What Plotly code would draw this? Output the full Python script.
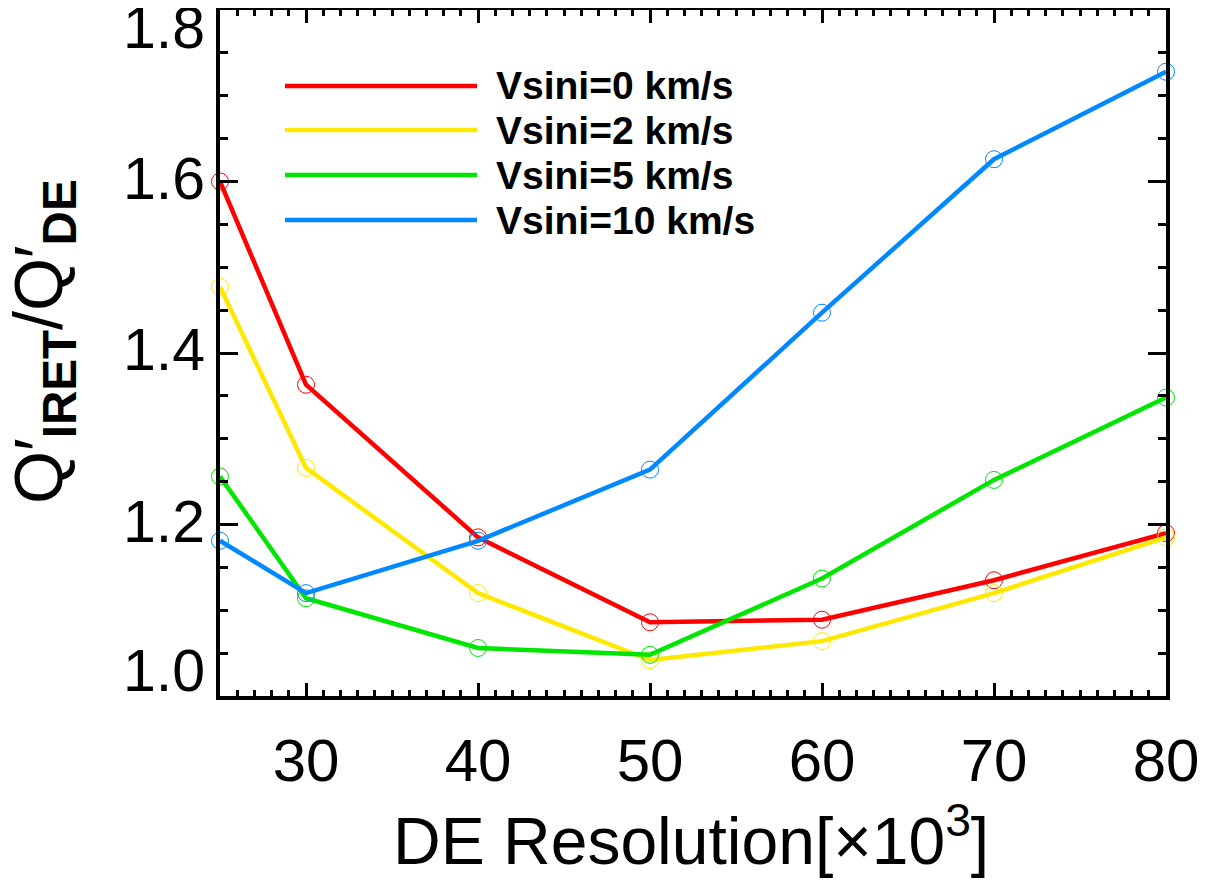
import plotly.graph_objects as go

# ---------------- data ----------------
resolution = [25, 30, 40, 50, 60, 70, 80]
series_names = ["Vsini=0 km/s", "Vsini=2 km/s", "Vsini=5 km/s", "Vsini=10 km/s"]
vsini0 = [1.600, 1.363, 1.185, 1.086, 1.089, 1.135, 1.190]
vsini2 = [1.477, 1.266, 1.120, 1.042, 1.064, 1.120, 1.185]
vsini5 = [1.256, 1.114, 1.056, 1.048, 1.137, 1.252, 1.348]
vsini10 = [1.181, 1.120, 1.181, 1.264, 1.447, 1.626, 1.728]
series_values = [vsini0, vsini2, vsini5, vsini10]
colors = ["#ff0000", "#ffe800", "#00e600", "#0088ff"]

x_tick_vals = [30, 40, 50, 60, 70, 80]
x_tick_text = ["30", "40", "50", "60", "70", "80"]
y_tick_vals = [1.0, 1.2, 1.4, 1.6, 1.8]
y_tick_text = ["1.0", "1.2", "1.4", "1.6", "1.8"]

# ---------------- layout geometry ----------------
# The page body has an 8px margin, so the figure is drawn 8px smaller and all
# page-pixel positions below are converted to figure pixels.
OFF = 8
W, H = 1213 - OFF, 880 - OFF
# plot frame in page pixels
PL, PR, PT, PB = 220, 1166, 10, 696
L, R, T, B = PL - OFF, PR - OFF, PT - OFF, PB - OFF
pw, ph = R - L, B - T


def px2paper_x(page_x):
    return (page_x - OFF - L) / pw


def px2paper_y(page_y):
    return (B - (page_y - OFF)) / ph


FONT = "Liberation Sans"

fig = go.Figure()
for name, vals, col in zip(series_names, series_values, colors):
    fig.add_trace(go.Scatter(
        x=resolution, y=vals, name=name, mode="lines+markers",
        line=dict(color=col, width=4.5),
        marker=dict(symbol="circle-open", size=17, color=col, line=dict(width=1, color=col)),
        cliponaxis=False, showlegend=False,
    ))

# custom legend (long sample lines like the original)
legend_y = [86, 130, 175, 220]
shapes = []
annotations = []
for name, col, ly in zip(series_names, colors, legend_y):
    shapes.append(dict(type="line", xref="paper", yref="paper",
                       x0=px2paper_x(285), x1=px2paper_x(477),
                       y0=px2paper_y(ly), y1=px2paper_y(ly),
                       line=dict(color=col, width=4.5)))
    annotations.append(dict(xref="paper", yref="paper", x=px2paper_x(494), y=px2paper_y(ly),
                            xanchor="left", yanchor="middle", showarrow=False,
                            text="<b>%s</b>" % name,
                            font=dict(family=FONT, size=39, color="black")))

# y tick labels (end labels kept inside the frame like the original)
for v, t in zip(y_tick_vals, y_tick_text):
    if v == y_tick_vals[-1]:
        ys = -18
    elif v == y_tick_vals[0]:
        ys = 25
    else:
        ys = 3
    annotations.append(dict(xref="paper", yref="y", x=0, y=v, xanchor="right", yanchor="middle",
                            xshift=-13, yshift=ys, showarrow=False, text=t,
                            font=dict(family=FONT, size=59, color="black")))

# axis titles
annotations.append(dict(xref="paper", yref="paper", x=px2paper_x(691), y=px2paper_y(836),
                        xanchor="center", yanchor="middle", showarrow=False,
                        text="DE Resolution[×10<sup>3</sup>]",
                        font=dict(family=FONT, size=66, color="black")))
annotations.append(dict(xref="paper", yref="paper", x=px2paper_x(43), y=px2paper_y(342),
                        xanchor="center", yanchor="middle", showarrow=False, textangle=-90,
                        text="Q′<sub><b>IRET</b></sub>/Q′<sub><b>DE</b></sub>",
                        font=dict(family=FONT, size=68, color="black")))

fig.update_layout(
    width=W, height=H,
    margin=dict(l=L, r=W - R, t=T, b=H - B, pad=0, autoexpand=False),
    paper_bgcolor="white", plot_bgcolor="white",
    shapes=shapes, annotations=annotations,
    font=dict(family=FONT, color="black"),
)
fig.update_xaxes(
    range=[25, 80], showgrid=False, zeroline=False,
    showline=True, linecolor="black", linewidth=4, mirror="ticks",
    ticks="inside", ticklen=13, tickwidth=3, tickcolor="black",
    tickmode="array", tickvals=x_tick_vals, ticktext=x_tick_text,
    tickfont=dict(family=FONT, size=60, color="black"),
    ticklabelstandoff=9,
    minor=dict(ticks="inside", ticklen=6, tickwidth=3, tickcolor="black", dtick=1, tick0=0, showgrid=False),
)
fig.update_yaxes(
    range=[1.0, 1.8], showgrid=False, zeroline=False,
    showline=True, linecolor="black", linewidth=4, mirror="ticks",
    ticks="inside", ticklen=18, tickwidth=3, tickcolor="black",
    tickmode="array", tickvals=y_tick_vals, ticktext=y_tick_text,
    showticklabels=False,
    minor=dict(ticks="inside", ticklen=8, tickwidth=3, tickcolor="black", dtick=0.05, tick0=1.0, showgrid=False),
)

fig.write_html("out.html")
